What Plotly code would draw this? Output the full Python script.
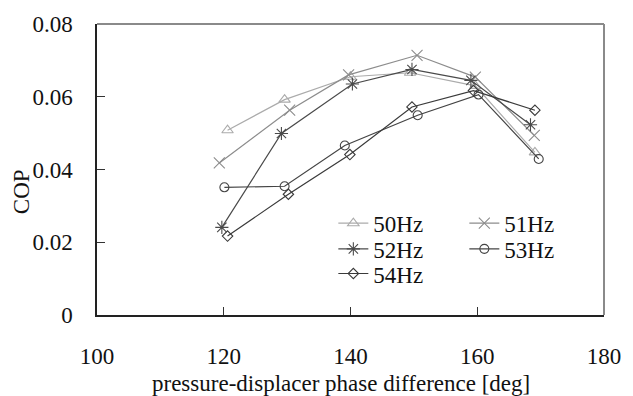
import plotly.graph_objects as go

series_names = ["50Hz", "51Hz", "52Hz", "53Hz", "54Hz"]
x_50 = [120.6, 129.6, 140.0, 149.4, 159.7, 169.1]
y_50 = [0.0508, 0.0592, 0.0655, 0.0666, 0.0630, 0.0447]
x_51 = [119.3, 130.4, 139.7, 150.5, 159.7, 169.0]
y_51 = [0.0418, 0.0563, 0.0660, 0.0714, 0.0654, 0.0494]
x_52 = [119.7, 129.1, 140.3, 149.7, 159.0, 168.4]
y_52 = [0.0241, 0.0499, 0.0635, 0.0675, 0.0645, 0.0523]
x_53 = [120.1, 129.6, 139.1, 150.6, 160.2, 169.7]
y_53 = [0.0351, 0.0354, 0.0466, 0.0549, 0.0606, 0.0429]
x_54 = [120.6, 130.2, 139.9, 149.7, 159.4, 169.1]
y_54 = [0.0217, 0.0332, 0.0441, 0.0572, 0.0617, 0.0563]

x_ticks = [100, 120, 140, 160, 180]
y_ticks = [0, 0.02, 0.04, 0.06, 0.08]
y_ticktext = ["0", "0.02", "0.04", "0.06", "0.08"]

xs = [x_50, x_51, x_52, x_53, x_54]
ys = [y_50, y_51, y_52, y_53, y_54]
colors = ["#ababab", "#8c8c8c", "#4a4a4a", "#444444", "#3a3a3a"]
symbols = ["triangle-up-open", "x-thin-open", "asterisk-open", "circle-open", "diamond-open"]
sizes = [10, 11, 11, 9, 8]
legends = ["legend", "legend", "legend2", "legend2", "legend3"]

FONT = "Liberation Serif, Times New Roman, serif"
TXT = "#111111"

fig = go.Figure()
for name, x, y, c, s, sz, lg in zip(series_names, xs, ys, colors, symbols, sizes, legends):
    fig.add_trace(go.Scatter(
        x=x, y=y, name=name, mode="lines+markers",
        line=dict(color=c, width=1.2),
        marker=dict(symbol=s, size=sz, color=c, line=dict(color=c, width=1.1)),
        legend=lg,
    ))

leg_common = dict(
    orientation="h", xref="paper", yref="paper", xanchor="left", yanchor="middle",
    font=dict(family=FONT, size=23, color=TXT), bgcolor="rgba(0,0,0,0)",
    entrywidth=86, entrywidthmode="pixels", itemwidth=30, tracegroupgap=0,
    borderwidth=0,
)
x_leg = (338 - 97) / 517

def yp(py):
    return (315 - py) / 295

fig.update_layout(
    width=633, height=396,
    margin=dict(l=97, r=19, t=20, b=81),
    paper_bgcolor="white", plot_bgcolor="white",
    font=dict(family=FONT, size=23, color=TXT),
    legend=dict(leg_common, x=x_leg, y=yp(222)),
    legend2=dict(leg_common, x=x_leg, y=yp(248)),
    legend3=dict(leg_common, x=x_leg, y=yp(273)),
    xaxis=dict(
        range=[100, 180], tickvals=x_ticks, ticks="inside", ticklen=8,
        tickcolor="#333", tickwidth=1, showgrid=False, zeroline=False,
        showline=True, linecolor="#222", linewidth=1.5,
        ticklabelstandoff=20,
        tickfont=dict(family=FONT, size=23, color=TXT),
    ),
    yaxis=dict(
        range=[0, 0.08], tickvals=y_ticks, ticktext=y_ticktext, ticks="inside", ticklen=8,
        tickcolor="#333", tickwidth=1, showgrid=False, zeroline=False,
        showline=True, linecolor="#222", linewidth=1.5,
        ticklabelstandoff=18,
        tickfont=dict(family=FONT, size=23, color=TXT),
    ),
    shapes=[
        dict(type="line", xref="paper", yref="paper", x0=0, x1=1, y0=1, y1=1,
             line=dict(color="#8a8a8a", width=2)),
        dict(type="line", xref="paper", yref="paper", x0=1, x1=1, y0=0, y1=1,
             line=dict(color="#8a8a8a", width=2)),
    ],
    annotations=[
        dict(text="COP", xref="paper", yref="paper", x=(20 - 97) / 517, y=yp(190),
             xanchor="center", yanchor="middle", textangle=-90, showarrow=False,
             font=dict(family=FONT, size=23, color=TXT)),
        dict(text="pressure-displacer phase difference [deg]", xref="paper", yref="paper",
             x=(346 - 97) / 517, y=yp(384), xanchor="center", yanchor="middle",
             showarrow=False, font=dict(family=FONT, size=23, color=TXT)),
    ],
    showlegend=True,
)

fig.write_html("out.html")
